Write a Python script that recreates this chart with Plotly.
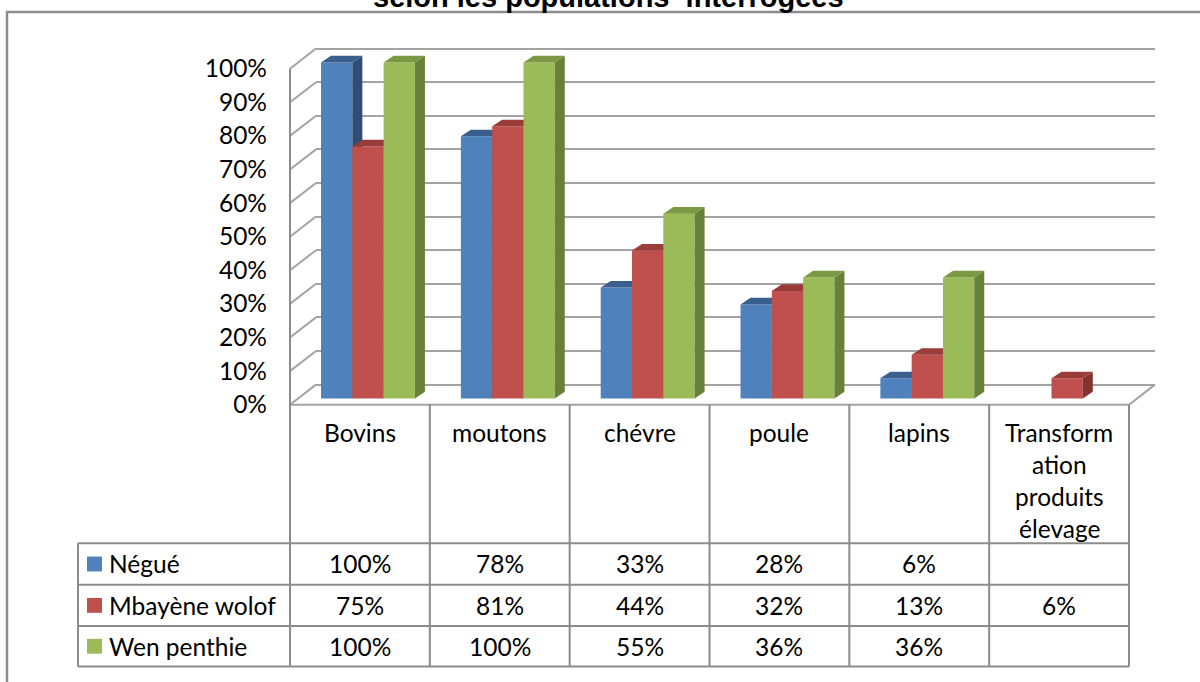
import textwrap
import plotly.graph_objects as go

# ---------------- data ----------------
categories = ["Bovins", "moutons", "chévre", "poule", "lapins",
              "Transformation produits élevage"]
series_names = ["Négué", "Mbayène wolof", "Wen penthie"]
negue = [100, 78, 33, 28, 6, None]
mbayene_wolof = [75, 81, 44, 32, 13, 6]
wen_penthie = [100, 100, 55, 36, 36, None]
y_ticks = [0, 10, 20, 30, 40, 50, 60, 70, 80, 90, 100]
title_text = "selon les populations  interrogées"

series_values = [negue, mbayene_wolof, wen_penthie]
front_colors = ["#4F81BD", "#C0504D", "#9BBB59"]
top_colors = ["#3A5F8E", "#9A3D3A", "#7B9943"]
side_colors = ["#2F4D75", "#853331", "#67803A"]

# ---------------- geometry (pixels) ----------------
W, H = 1200, 682
FONT = "Lato"
FS = 24.5
GRID = "#A3A3A3"


def px(x):
    return x / W


def py(y):
    return 1 - y / H


n = len(categories)
FX0, FX1 = 290, 1129            # front edge of the floor
CW = (FX1 - FX0) / n            # category width
DX3, DY3 = 26, 20.3             # 3-D depth offset of the back wall
PPU = 3.39                      # pixels per percent
FRONT_Y0 = 408.3                # 0 % on the front edge
BACK_Y0 = FRONT_Y0 - DY3        # 0 % on the back wall
BAR_Y0 = 402.0                  # 0 % in the bars' plane
BAR_SHIFT = (FRONT_Y0 - BAR_Y0) / DY3 * DX3
DOM_TOP, DOM_BOT = 40, 416
BX0, BX1 = FX0 + DX3, FX1 + DX3


def yrange(y0):
    return [(y0 - DOM_BOT) / PPU, (y0 - DOM_TOP) / PPU]


cat0 = FX0 + CW / 2 + BAR_SHIFT
bar_xrange = [(BX0 - cat0) / CW, (BX1 - cat0) / CW]

BW = 31.3 / CW
DX = 10 / CW
DY = 6.7 / PPU

fig = go.Figure()

# dummy traces so that the grid axis and the front tick-label axis exist
fig.add_trace(go.Scatter(x=[None], y=[None], xaxis="x", yaxis="y5",
                         showlegend=False, hoverinfo="skip"))
fig.add_trace(go.Scatter(x=[None], y=[None], xaxis="x", yaxis="y",
                         showlegend=False, hoverinfo="skip"))

xs = list(range(n))
for i, vals in enumerate(series_values):
    ax = str(i + 2)
    off = (i - 1.5) * BW
    fig.add_trace(go.Bar(
        x=xs, y=vals, width=BW, offset=off, name=series_names[i],
        marker=dict(color=front_colors[i], line=dict(width=0)),
        xaxis="x" + ax, yaxis="y" + ax, showlegend=False))
    top_x, top_y, side_x, side_y = [], [], [], []
    for c, v in zip(xs, vals):
        if v is None:
            continue
        x0 = c + off
        x1 = x0 + BW
        top_x += [x0, x0 + DX, x1 + DX, x1, x0, None]
        top_y += [v, v + DY, v + DY, v, v, None]
        side_x += [x1, x1, x1 + DX, x1 + DX, x1, None]
        side_y += [0, v, v + DY, DY, 0, None]
    fig.add_trace(go.Scatter(x=side_x, y=side_y, mode="lines", fill="toself",
                             fillcolor=side_colors[i], line=dict(width=0),
                             xaxis="x" + ax, yaxis="y" + ax,
                             showlegend=False, hoverinfo="skip"))
    fig.add_trace(go.Scatter(x=top_x, y=top_y, mode="lines", fill="toself",
                             fillcolor=top_colors[i], line=dict(width=0),
                             xaxis="x" + ax, yaxis="y" + ax,
                             showlegend=False, hoverinfo="skip"))

layout = dict(
    width=W, height=H, autosize=False,
    margin=dict(l=0, r=0, t=0, b=0, pad=0),
    paper_bgcolor="white", plot_bgcolor="rgba(0,0,0,0)",
    showlegend=False, barmode="overlay",
    font=dict(family=FONT, size=FS, color="black"),
    xaxis=dict(domain=[px(BX0), px(BX1)], range=[0, 1], visible=False,
               anchor="y"),
    yaxis=dict(domain=[py(DOM_BOT), py(DOM_TOP)], range=yrange(BACK_Y0),
               tickvals=y_ticks, showticklabels=False, showgrid=True,
               gridcolor=GRID, gridwidth=2, zeroline=False, showline=False,
               ticks="", anchor="x"),
    yaxis5=dict(overlaying="y", range=yrange(FRONT_Y0), tickvals=y_ticks,
                ticktext=[f"{v}%" for v in y_ticks], showgrid=False,
                zeroline=False, showline=False, ticks="", anchor="free",
                position=px(267), side="left",
                tickfont=dict(family=FONT, size=FS, color="black")),
)
for i in range(len(series_values)):
    ax = str(i + 2)
    layout["xaxis" + ax] = dict(overlaying="x", range=bar_xrange,
                                visible=False, anchor="y" + ax)
    layout["yaxis" + ax] = dict(overlaying="y", range=yrange(BAR_Y0),
                                visible=False, anchor="x" + ax)
fig.update_layout(**layout)

shapes = []


def line(x0, y0, x1, y1, color=GRID, w=2):
    shapes.append(dict(type="line", xref="paper", yref="paper",
                       x0=px(x0), y0=py(y0), x1=px(x1), y1=py(y1),
                       line=dict(color=color, width=w), layer="below"))


# left side wall diagonals
for v in y_ticks:
    line(FX0, FRONT_Y0 - PPU * v, BX0, BACK_Y0 - PPU * v)
# floor front & right edges
line(FX0, FRONT_Y0, FX1, FRONT_Y0)
line(FX1, FRONT_Y0, BX1, BACK_Y0)

# table
TBL_L = 78
ROW_Y = [548, 590, 631.5, 672.5]
TBL_B = ROW_Y[-1]
TC = "#8C8C8C"
line(FX0, FRONT_Y0 - PPU * 100, FX0, TBL_B, TC)
for k in range(1, n + 1):
    xk = FX0 + CW * k
    line(xk, FRONT_Y0, xk, TBL_B, TC)
for yr in ROW_Y:
    line(TBL_L, yr, FX1, yr, TC)
line(TBL_L, ROW_Y[0], TBL_L, TBL_B, TC)

# outer frame
shapes.append(dict(type="rect", xref="paper", yref="paper",
                   x0=px(7), y0=py(12), x1=px(1220), y1=py(700),
                   line=dict(color="#8C8C8C", width=2.5), layer="below"))

annotations = []
# category header
for c, cat in enumerate(categories):
    xc = FX0 + CW * (c + 0.5)
    for j, ln in enumerate(textwrap.wrap(cat, 9)):
        annotations.append(dict(xref="paper", yref="paper", x=px(xc),
                                y=py(436 + 32.5 * j), text=ln,
                                showarrow=False, xanchor="center",
                                yanchor="middle",
                                font=dict(family=FONT, size=FS)))
# data rows
for r, (name, vals) in enumerate(zip(series_names, series_values)):
    yc = (ROW_Y[r] + ROW_Y[r + 1]) / 2
    shapes.append(dict(type="rect", xref="paper", yref="paper",
                       x0=px(87), x1=px(102), y0=py(yc - 7.5), y1=py(yc + 7.5),
                       fillcolor=front_colors[r], line=dict(width=0)))
    annotations.append(dict(xref="paper", yref="paper", x=px(107), y=py(yc),
                            text=name, showarrow=False, xanchor="left",
                            yanchor="middle", font=dict(family=FONT, size=FS)))
    for c, v in enumerate(vals):
        if v is None:
            continue
        annotations.append(dict(xref="paper", yref="paper",
                                x=px(FX0 + CW * (c + 0.5)), y=py(yc),
                                text=f"{v}%", showarrow=False,
                                xanchor="center", yanchor="middle",
                                font=dict(family=FONT, size=FS)))
# title (cut off at the top edge, as in the reference)
annotations.append(dict(xref="paper", yref="paper", x=px(609), y=py(-3),
                        text="<b>" + title_text + "</b>", showarrow=False,
                        xanchor="center", yanchor="middle",
                        font=dict(family="Liberation Sans", size=29,
                                  color="black")))

fig.update_layout(shapes=shapes, annotations=annotations)
fig.write_html(
    "out.html",
    config={"displayModeBar": False},
    post_script="document.body.style.margin='0';"
                "document.body.style.overflow='hidden';")
